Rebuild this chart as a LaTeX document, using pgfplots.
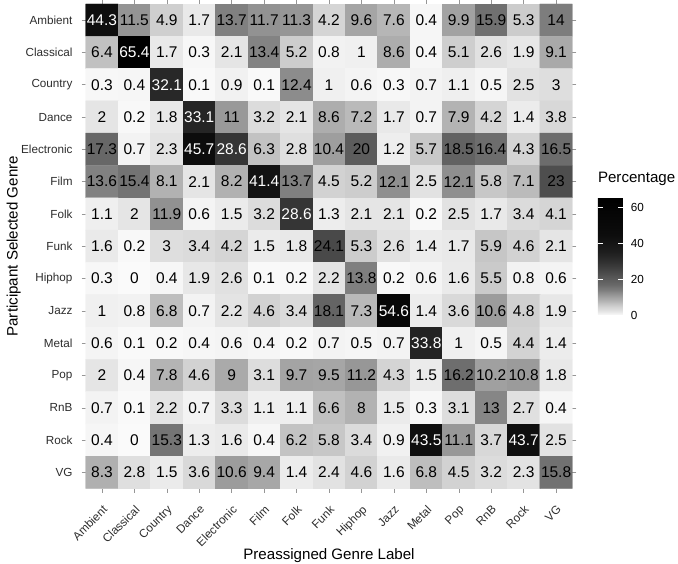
\documentclass[border=0pt]{standalone}
\usepackage{fontspec}
\setmainfont{Liberation Sans}
\usepackage{pgfplots}
\usepackage{pgfplotstable}
\pgfplotsset{compat=1.18}

\pgfplotstableread[row sep=\\]{
x y v\\
0 14 44.3\\ 1 14 11.5\\ 2 14 4.9\\ 3 14 1.7\\ 4 14 13.7\\ 5 14 11.7\\ 6 14 11.3\\ 7 14 4.2\\ 8 14 9.6\\ 9 14 7.6\\ 10 14 0.4\\ 11 14 9.9\\ 12 14 15.9\\ 13 14 5.3\\ 14 14 14\\
0 13 6.4\\ 1 13 65.4\\ 2 13 1.7\\ 3 13 0.3\\ 4 13 2.1\\ 5 13 13.4\\ 6 13 5.2\\ 7 13 0.8\\ 8 13 1\\ 9 13 8.6\\ 10 13 0.4\\ 11 13 5.1\\ 12 13 2.6\\ 13 13 1.9\\ 14 13 9.1\\
0 12 0.3\\ 1 12 0.4\\ 2 12 32.1\\ 3 12 0.1\\ 4 12 0.9\\ 5 12 0.1\\ 6 12 12.4\\ 7 12 1\\ 8 12 0.6\\ 9 12 0.3\\ 10 12 0.7\\ 11 12 1.1\\ 12 12 0.5\\ 13 12 2.5\\ 14 12 3\\
0 11 2\\ 1 11 0.2\\ 2 11 1.8\\ 3 11 33.1\\ 4 11 11\\ 5 11 3.2\\ 6 11 2.1\\ 7 11 8.6\\ 8 11 7.2\\ 9 11 1.7\\ 10 11 0.7\\ 11 11 7.9\\ 12 11 4.2\\ 13 11 1.4\\ 14 11 3.8\\
0 10 17.3\\ 1 10 0.7\\ 2 10 2.3\\ 3 10 45.7\\ 4 10 28.6\\ 5 10 6.3\\ 6 10 2.8\\ 7 10 10.4\\ 8 10 20\\ 9 10 1.2\\ 10 10 5.7\\ 11 10 18.5\\ 12 10 16.4\\ 13 10 4.3\\ 14 10 16.5\\
0 9 13.6\\ 1 9 15.4\\ 2 9 8.1\\ 3 9 2.1\\ 4 9 8.2\\ 5 9 41.4\\ 6 9 13.7\\ 7 9 4.5\\ 8 9 5.2\\ 9 9 12.1\\ 10 9 2.5\\ 11 9 12.1\\ 12 9 5.8\\ 13 9 7.1\\ 14 9 23\\
0 8 1.1\\ 1 8 2\\ 2 8 11.9\\ 3 8 0.6\\ 4 8 1.5\\ 5 8 3.2\\ 6 8 28.6\\ 7 8 1.3\\ 8 8 2.1\\ 9 8 2.1\\ 10 8 0.2\\ 11 8 2.5\\ 12 8 1.7\\ 13 8 3.4\\ 14 8 4.1\\
0 7 1.6\\ 1 7 0.2\\ 2 7 3\\ 3 7 3.4\\ 4 7 4.2\\ 5 7 1.5\\ 6 7 1.8\\ 7 7 24.1\\ 8 7 5.3\\ 9 7 2.6\\ 10 7 1.4\\ 11 7 1.7\\ 12 7 5.9\\ 13 7 4.6\\ 14 7 2.1\\
0 6 0.3\\ 1 6 0\\ 2 6 0.4\\ 3 6 1.9\\ 4 6 2.6\\ 5 6 0.1\\ 6 6 0.2\\ 7 6 2.2\\ 8 6 13.8\\ 9 6 0.2\\ 10 6 0.6\\ 11 6 1.6\\ 12 6 5.5\\ 13 6 0.8\\ 14 6 0.6\\
0 5 1\\ 1 5 0.8\\ 2 5 6.8\\ 3 5 0.7\\ 4 5 2.2\\ 5 5 4.6\\ 6 5 3.4\\ 7 5 18.1\\ 8 5 7.3\\ 9 5 54.6\\ 10 5 1.4\\ 11 5 3.6\\ 12 5 10.6\\ 13 5 4.8\\ 14 5 1.9\\
0 4 0.6\\ 1 4 0.1\\ 2 4 0.2\\ 3 4 0.4\\ 4 4 0.6\\ 5 4 0.4\\ 6 4 0.2\\ 7 4 0.7\\ 8 4 0.5\\ 9 4 0.7\\ 10 4 33.8\\ 11 4 1\\ 12 4 0.5\\ 13 4 4.4\\ 14 4 1.4\\
0 3 2\\ 1 3 0.4\\ 2 3 7.8\\ 3 3 4.6\\ 4 3 9\\ 5 3 3.1\\ 6 3 9.7\\ 7 3 9.5\\ 8 3 11.2\\ 9 3 4.3\\ 10 3 1.5\\ 11 3 16.2\\ 12 3 10.2\\ 13 3 10.8\\ 14 3 1.8\\
0 2 0.7\\ 1 2 0.1\\ 2 2 2.2\\ 3 2 0.7\\ 4 2 3.3\\ 5 2 1.1\\ 6 2 1.1\\ 7 2 6.6\\ 8 2 8\\ 9 2 1.5\\ 10 2 0.3\\ 11 2 3.1\\ 12 2 13\\ 13 2 2.7\\ 14 2 0.4\\
0 1 0.4\\ 1 1 0\\ 2 1 15.3\\ 3 1 1.3\\ 4 1 1.6\\ 5 1 0.4\\ 6 1 6.2\\ 7 1 5.8\\ 8 1 3.4\\ 9 1 0.9\\ 10 1 43.5\\ 11 1 11.1\\ 12 1 3.7\\ 13 1 43.7\\ 14 1 2.5\\
0 0 8.3\\ 1 0 2.8\\ 2 0 1.5\\ 3 0 3.6\\ 4 0 10.6\\ 5 0 9.4\\ 6 0 1.4\\ 7 0 2.4\\ 8 0 4.6\\ 9 0 1.6\\ 10 0 6.8\\ 11 0 4.5\\ 12 0 3.2\\ 13 0 2.3\\ 14 0 15.8\\
}\heatdata

\definecolor{tickgray}{RGB}{150,150,150}
\definecolor{labgray}{RGB}{45,45,45}

\begin{document}
\begin{tikzpicture}
\useasboundingbox (-85.7bp,-75.5bp) rectangle (592.3bp,488.5bp);
\begin{axis}[
  at={(0,0)}, anchor=south west,
  scale only axis, width=486.6bp, height=484.5bp,
  xmin=-0.5, xmax=14.5, ymin=-0.5, ymax=14.5,
  enlargelimits=false,
  axis line style={draw=none},
  colormap={bwmap}{gray(0pt)=(0.98) gray(2pt)=(0.90) gray(5pt)=(0.81) gray(8pt)=(0.70) gray(11pt)=(0.60) gray(14pt)=(0.49) gray(17pt)=(0.41) gray(20pt)=(0.36) gray(25pt)=(0.27) gray(30pt)=(0.185) gray(35pt)=(0.12) gray(45pt)=(0.05) gray(65.4pt)=(0)},
  point meta min=0, point meta max=65.4,
  xtick={0,...,14}, ytick={0,...,14},
  xticklabels={Ambient,Classical,Country,Dance,Electronic,Film,Folk,Funk,Hiphop,Jazz,Metal,Pop,RnB,Rock,VG},
  yticklabels={VG,Rock,RnB,Pop,Metal,Jazz,Hiphop,Funk,Folk,Film,Electronic,Dance,Country,Classical,Ambient},
  xtick pos=both, ytick pos=both,
  xticklabel pos=bottom, yticklabel pos=left,
  tick align=outside, major tick length=4bp,
  tick style={color=tickgray, line width=0.5bp},
  xticklabel style={font=\fontsize{11.7bp}{14bp}\selectfont, text=labgray, xshift=0bp, yshift=-10.5bp, rotate=45, anchor=north east, inner sep=1bp},
  yticklabel style={font=\fontsize{11.7bp}{14bp}\selectfont, text=labgray, anchor=east, xshift=-8bp, inner sep=1bp},
  xlabel={Preassigned Genre Label},
  ylabel={Participant Selected Genre},
  xlabel style={font=\fontsize{15.1bp}{18bp}\selectfont, at={(axis description cs:0.5,-0.1464)}, anchor=base, inner sep=0pt},
  ylabel style={font=\fontsize{15.1bp}{18bp}\selectfont, at={(axis description cs:-0.1397,0.5)}, rotate=0, anchor=base, inner sep=0pt},
  colorbar,
  colorbar/width=25bp,
  colorbar style={
    scale only axis,
    at={(parent axis.north east)}, anchor=north west,
    xshift=17bp, yshift=-194bp,
    width=25bp, height=117bp,
    axis line style={draw=none},
    ytick={0,20,40,60},
    ytick pos=both, yticklabel pos=right,
    tick align=inside, major tick length=5bp,
    tick style={color=white, line width=0.6bp},
    /pgf/number format/assume math mode=true,
    yticklabel style={font=\fontsize{11.7bp}{14bp}\selectfont, text=black, xshift=4.5bp},
    title={Percentage},
    title style={font=\fontsize{15.1bp}{18bp}\selectfont, at={(0,1)}, anchor=base west, yshift=10bp, inner sep=0pt},
  },
]
\addplot[matrix plot*, mesh/cols=15, point meta=explicit] table[x=x, y=y, meta=v] {\heatdata};
\addplot[only marks, mark=none, point meta=explicit symbolic,
  nodes near coords={\ifdim\pgfplotspointmeta pt>26pt\color{white}\fi\pgfplotspointmeta},
  nodes near coords align=center,
  every node near coord/.append style={font=\fontsize{15.5bp}{18bp}\selectfont, text=black, inner sep=0pt, anchor=center}]
  table[x=x, y=y, meta=v] {\heatdata};
\end{axis}
\end{tikzpicture}
\end{document}
